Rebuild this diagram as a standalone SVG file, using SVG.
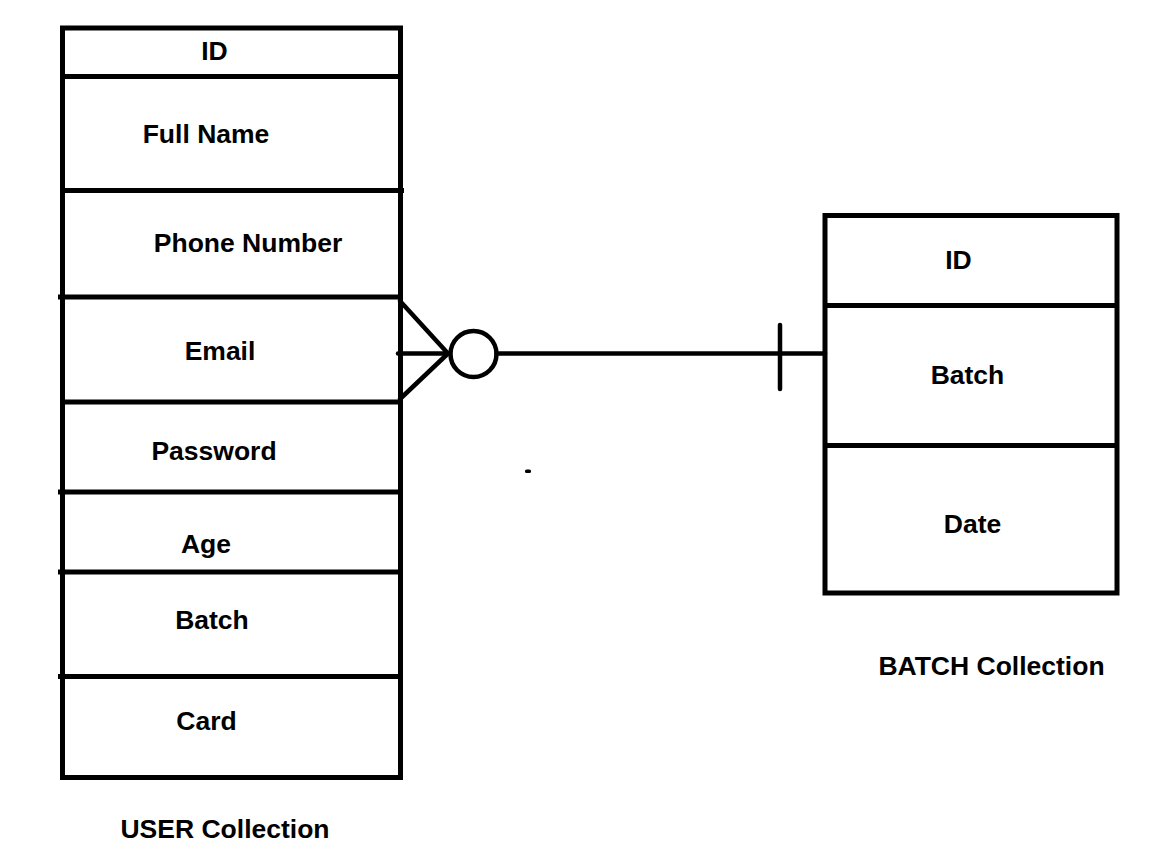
<svg xmlns="http://www.w3.org/2000/svg" width="1153" height="858" viewBox="0 0 1153 858">
<style>
.box{fill:#fff;stroke:#000;stroke-width:5}
.div{stroke:#000;stroke-width:5;fill:none}
.con{stroke:#000;stroke-width:4.5;fill:none;stroke-linecap:round}
.t{font-family:"Liberation Sans",Arial,sans-serif;font-weight:bold;font-size:26.5px;fill:#000;text-anchor:middle}
</style>
<rect x="0" y="0" width="1153" height="858" fill="#fff"/>
<g id="user-collection">
<rect class="box" x="62.5" y="28" width="338" height="749.5"/>
<line class="div" x1="62.5" y1="76.5" x2="400.5" y2="76.5"/>
<line class="div" x1="62.5" y1="190.5" x2="404" y2="190.5"/>
<line class="div" x1="58" y1="297" x2="400.5" y2="297"/>
<line class="div" x1="62.5" y1="402" x2="400.5" y2="402"/>
<line class="div" x1="58" y1="492" x2="400.5" y2="492"/>
<line class="div" x1="58" y1="572" x2="400.5" y2="572"/>
<line class="div" x1="58" y1="676.5" x2="400.5" y2="676.5"/>
<text class="t" x="214.5" y="60">ID</text>
<text class="t" x="206" y="143">Full Name</text>
<text class="t" x="248" y="252">Phone Number</text>
<text class="t" x="220" y="360">Email</text>
<text class="t" x="214" y="460">Password</text>
<text class="t" x="206" y="553">Age</text>
<text class="t" x="212" y="629">Batch</text>
<text class="t" x="206.5" y="730">Card</text>
<text class="t" x="225" y="838">USER Collection</text>
</g>
<g id="batch-collection">
<rect class="box" x="825" y="215.5" width="292" height="377.5"/>
<line class="div" x1="825" y1="305.5" x2="1117" y2="305.5"/>
<line class="div" x1="825" y1="445.5" x2="1117" y2="445.5"/>
<text class="t" x="958.5" y="269">ID</text>
<text class="t" x="967.5" y="384">Batch</text>
<text class="t" x="972.5" y="533">Date</text>
<text class="t" x="991.5" y="675">BATCH Collection</text>
</g>
<g id="connectors">
<line class="con" x1="400" y1="301" x2="448" y2="353.5"/>
<line class="con" x1="400" y1="399" x2="448" y2="353.5"/>
<line class="con" x1="398" y1="353.5" x2="450" y2="353.5"/>
<circle class="con" cx="473.5" cy="354" r="23"/>
<line class="con" x1="496.5" y1="353.5" x2="825" y2="353.5"/>
<line class="con" x1="780" y1="325" x2="780" y2="389"/>
</g>
<rect x="525" y="469.5" width="6" height="3.5" rx="1.5" fill="#000"/>
</svg>
